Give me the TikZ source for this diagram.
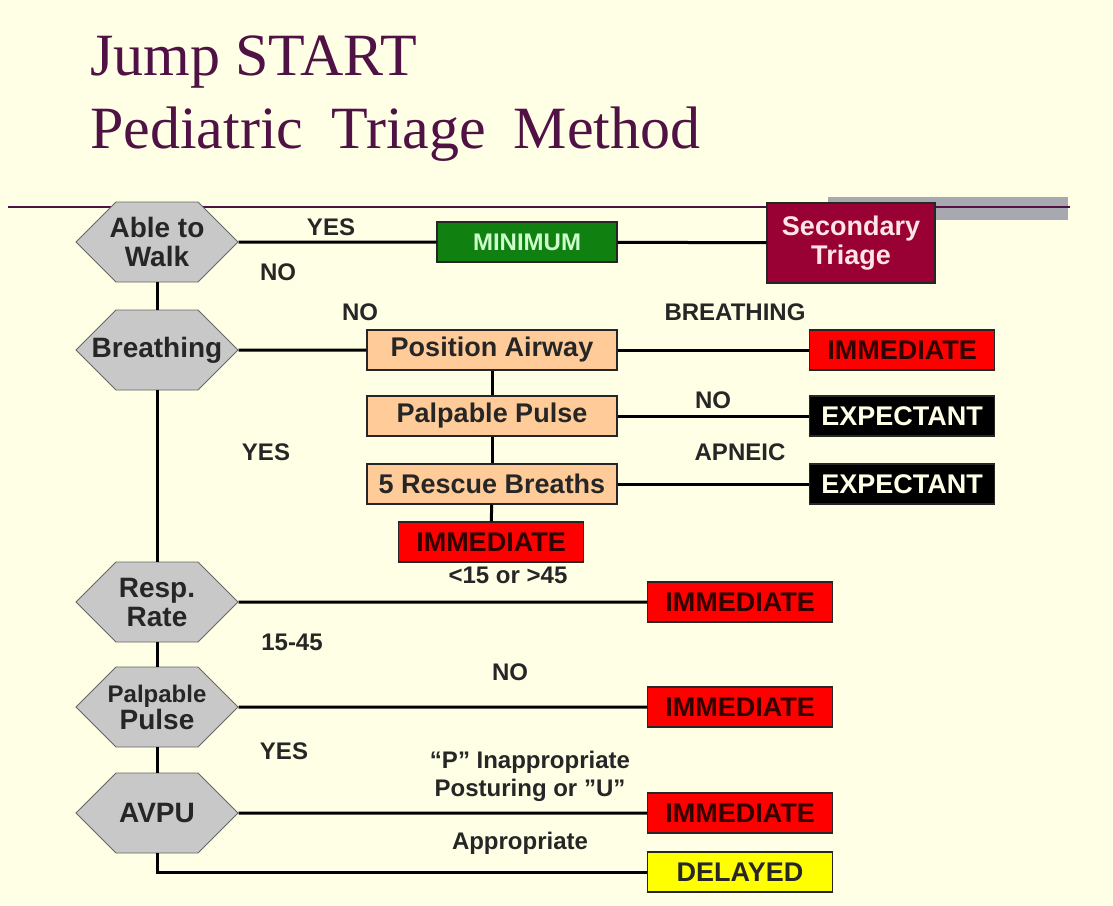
\documentclass[tikz,border=0pt]{standalone}
\usepackage{fontspec}
\setmainfont{Liberation Serif}
\setsansfont{Liberation Sans}
\usetikzlibrary{shapes.symbols}
\definecolor{bgcream}{RGB}{255,255,230}
\definecolor{titleplum}{RGB}{80,18,68}
\definecolor{hexgray}{RGB}{200,200,200}
\definecolor{bargray}{RGB}{168,168,176}
\definecolor{mingreen}{RGB}{16,128,16}
\definecolor{secmaroon}{RGB}{153,0,51}
\definecolor{peach}{RGB}{255,204,153}
\definecolor{immred}{RGB}{255,0,0}
\definecolor{delyellow}{RGB}{255,255,0}
\newcommand{\hexline}[1]{\makebox[0pt]{#1}}
\begin{document}
\begin{tikzpicture}[x=1pt,y=-1pt]
        \tikzstyle{question}=[signal,signal to=west and east,signal pointer angle=90,draw=black!60,thick,fill=hexgray,minimum width=162pt,minimum height=80pt,inner sep=0pt,align=center,font=\sffamily\bfseries\fontsize{28}{29}\selectfont,text=black!85]
        \tikzstyle{stepbox}=[rectangle,draw=black!85,line width=1.2pt,minimum height=40pt,inner sep=0pt,font=\sffamily\bfseries\fontsize{27}{29}\selectfont]
        \tikzstyle{action}=[stepbox,fill=peach,minimum width=250pt,text=black!85]
        \tikzstyle{immediate}=[stepbox,fill=immred,minimum width=185pt,text=black!80!red]
        \tikzstyle{expectant}=[stepbox,fill=black,minimum width=185pt,text=bgcream]
        \tikzstyle{lbl}=[font=\sffamily\bfseries\fontsize{24}{28}\selectfont,text=black!85,inner sep=0pt,align=center]
        \tikzstyle{edge}=[draw,line width=3pt]
        \fill[bgcream] (0,0) rectangle (1113,905);
        \useasboundingbox (0,0) rectangle (1113,905);
        \node[anchor=base west,text=titleplum,font=\fontsize{60}{66}\selectfont,inner sep=0pt] (title1) at (90,75) {Jump START};
        \node[anchor=base west,text=titleplum,font=\fontsize{60}{66}\selectfont,inner sep=0pt] (title2) at (90,148) {Pediatric\hspace{28pt}Triage\hspace{28pt}Method};
        \fill[bargray] (828,197) rectangle (1068,220);
        \draw[titleplum,line width=2pt] (8,207) -- (1070,207);
        \node[question] (walk) at (157,242) {\hexline{Able to}\\\hexline{Walk}};
        \node[question] (breath) at (157,350) {\hexline{Breathing}};
        \node[question] (resp) at (157,602) {\hexline{Resp.}\\\hexline{Rate}};
        \node[question,font=\sffamily\bfseries\fontsize{24}{27}\selectfont] (pulse) at (157,707) {\hexline{Palpable}\\\hexline{\fontsize{28}{28}\selectfont Pulse}};
        \node[question] (avpu) at (157,813) {\hexline{AVPU}};
        \node[stepbox,fill=mingreen,minimum width=180pt,text=green!20,font=\sffamily\bfseries\fontsize{24}{26}\selectfont] (minimum) at (527,242) {MINIMUM};
        \node[stepbox,fill=secmaroon,minimum width=168pt,minimum height=80pt,text=red!10,align=center] (secondary) at (851,243) {Secondary\\Triage};
        \node[action] (airway) at (492,350) {Position Airway};
        \node[action] (ppulse) at (492,416) {Palpable Pulse};
        \node[action] (rescue) at (492,484) {5 Rescue Breaths};
        \node[immediate] (imm1) at (491,542) {IMMEDIATE};
        \node[immediate] (imm2) at (902,350) {IMMEDIATE};
        \node[expectant] (exp1) at (902,416) {EXPECTANT};
        \node[expectant] (exp2) at (902,484) {EXPECTANT};
        \node[immediate] (imm3) at (740,602) {IMMEDIATE};
        \node[immediate] (imm4) at (740,707) {IMMEDIATE};
        \node[immediate] (imm5) at (740,813) {IMMEDIATE};
        \node[stepbox,fill=delyellow,minimum width=185pt,text=black!85] (delayed) at (740,872) {DELAYED};
        \node[lbl] (yes1) at (331,227) {YES};
        \node[lbl] (no1) at (278,272) {NO};
        \node[lbl] (no2) at (360,312) {NO};
        \node[lbl] (breathing) at (735,312) {BREATHING};
        \node[lbl] (no3) at (713,400) {NO};
        \node[lbl] (yes2) at (266,452) {YES};
        \node[lbl] (apneic) at (740,452) {APNEIC};
        \node[lbl] (rate1) at (508,575) {<15 or >45};
        \node[lbl] (rate2) at (292,642) {15-45};
        \node[lbl] (no4) at (510,672) {NO};
        \node[lbl] (yes3) at (284,751) {YES};
        \node[lbl] (posture) at (530,776) {“P” Inappropriate\\Posturing or ”U”};
        \node[lbl] (approp) at (520,843) {Appropriate};
        \path[edge] (walk) edge (minimum);
        \path[edge] (minimum) edge (secondary);
        \path[edge] (walk) edge (breath);
        \path[edge] (breath) edge (airway);
        \path[edge] (airway) edge (imm2);
        \path[edge] (airway) edge (ppulse);
        \path[edge] (ppulse) edge (exp1);
        \path[edge] (ppulse) edge (rescue);
        \path[edge] (rescue) edge (exp2);
        \path[edge] (rescue) edge (imm1);
        \path[edge] (breath) edge (resp);
        \path[edge] (resp) edge (imm3);
        \path[edge] (resp) edge (pulse);
        \path[edge] (pulse) edge (imm4);
        \path[edge] (pulse) edge (avpu);
        \path[edge] (avpu) edge (imm5);
        \path[edge] (avpu.south) |- (delayed.west);
\end{tikzpicture}
\end{document}
